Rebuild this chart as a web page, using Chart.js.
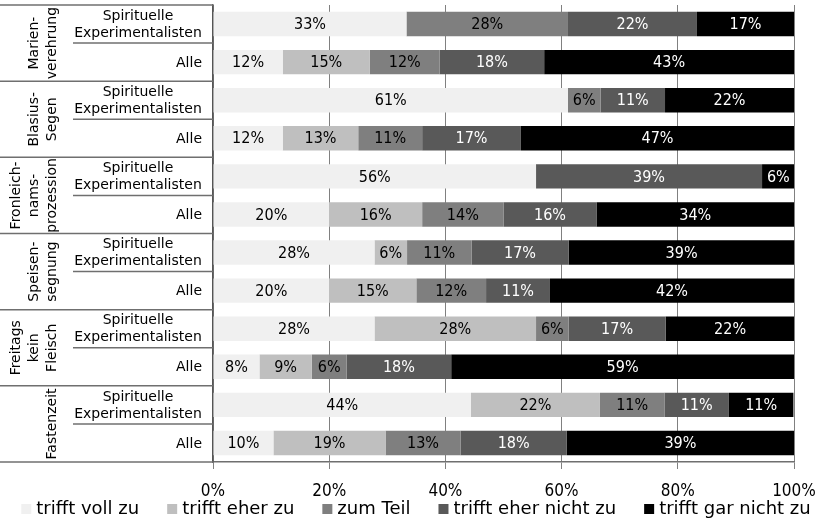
<!DOCTYPE html>
<html>
<head>
<meta charset="utf-8">
<script src="https://cdn.jsdelivr.net/npm/chart.js@4/dist/chart.umd.min.js"></script>
<style>
  html, body { margin: 0; padding: 0; background: #fff; }
  #wrap { width: 820px; height: 521px; }
</style>
</head>
<body>
<div id="wrap"><canvas id="c" width="820" height="521"></canvas></div>
<script>
// ---- data ----
const groupLabels = [
  ['Marien-', 'verehrung'],
  ['Blasius-', 'Segen'],
  ['Fronleich-', 'nams-', 'prozession'],
  ['Speisen-', 'segnung'],
  ['Freitags', 'kein', 'Fleisch'],
  ['Fastenzeit']
];
const subLabels = [['Spirituelle', 'Experimentalisten'], ['Alle']];
const rowLabels = [
  'Marien SE', 'Marien Alle',
  'Blasius SE', 'Blasius Alle',
  'Fronleichnam SE', 'Fronleichnam Alle',
  'Speisen SE', 'Speisen Alle',
  'Freitags SE', 'Freitags Alle',
  'Fasten SE', 'Fasten Alle'
];
const seriesNames = ['trifft voll zu', 'trifft eher zu', 'zum Teil', 'trifft eher nicht zu', 'trifft gar nicht zu'];
const trifftVollZu      = [33.3, 12, 61.1, 12, 55.6, 20, 27.8, 20, 27.8,  8, 44.4, 10.4];
const trifftEherZu      = [ 0,   15,  0,   13,  0,   16,  5.6, 15, 27.8,  9, 22.2, 19.3];
const zumTeil           = [27.8, 12,  5.6, 11,  0,   14, 11.1, 12,  5.6,  6, 11.1, 12.9];
const trifftEherNichtZu = [22.2, 18, 11.1, 17, 38.9, 16, 16.7, 11, 16.7, 18, 11.1, 18.3];
const trifftGarNichtZu  = [16.7, 43, 22.2, 47,  5.6, 34, 38.9, 42, 22.2, 59, 11.1, 39.1];
const xTicks = [0, 20, 40, 60, 80, 100];

// ---- styles ----
const colors = ['#f0f0f0', '#bfbfbf', '#7f7f7f', '#595959', '#000000'];
const labelColors = ['#000', '#000', '#000', '#fff', '#fff'];
const FONT = "'DejaVu Sans', sans-serif";
const FONT_NUM = "'DejaVu Sans Condensed', 'DejaVu Sans', sans-serif";
const lineColor = '#6f6f6f';

Chart.defaults.color = '#000';
Chart.defaults.font.family = FONT;

const seriesData = [trifftVollZu, trifftEherZu, zumTeil, trifftEherNichtZu, trifftGarNichtZu];

const leftLabels = {
  id: 'leftLabels',
  afterDraw(chart) {
    const ctx = chart.ctx;
    const y = chart.scales.y;
    const area = chart.chartArea;
    const n = rowLabels.length;
    const bound = i => {
      if (i <= 0) return area.top;
      if (i >= n) return area.bottom;
      return (y.getPixelForValue(i - 1) + y.getPixelForValue(i)) / 2;
    };
    ctx.save();
    ctx.strokeStyle = lineColor;
    ctx.lineWidth = 1.5;
    for (let g = 0; g <= groupLabels.length; g++) {
      const yy = bound(g * 2);
      ctx.beginPath(); ctx.moveTo(0, yy); ctx.lineTo(area.left, yy); ctx.stroke();
    }
    for (let g = 0; g < groupLabels.length; g++) {
      const yy = bound(g * 2 + 1);
      ctx.beginPath(); ctx.moveTo(73, yy); ctx.lineTo(area.left, yy); ctx.stroke();
    }
    ctx.fillStyle = '#000';
    ctx.font = '14px ' + FONT;
    ctx.textBaseline = 'middle';
    for (let i = 0; i < n; i++) {
      const cy = y.getPixelForValue(i);
      const lab = subLabels[i % 2];
      if (lab.length === 2) {
        ctx.textAlign = 'center';
        ctx.fillText(lab[0], 138, cy - 8);
        ctx.fillText(lab[1], 138, cy + 9);
      } else {
        ctx.textAlign = 'right';
        ctx.fillText(lab[0], 202, cy + 1);
      }
    }
    ctx.textAlign = 'center';
    ctx.textBaseline = 'alphabetic';
    for (let g = 0; g < groupLabels.length; g++) {
      const cy = (bound(g * 2) + bound(g * 2 + 2)) / 2;
      const lines = groupLabels[g];
      ctx.save();
      ctx.translate(0, cy);
      ctx.rotate(-Math.PI / 2);
      lines.forEach((t, j) => {
        const bx = 56 - (lines.length - 1 - j) * 18;
        ctx.fillText(t, 0, bx);
      });
      ctx.restore();
    }

    // legend (single row, centred, drawn from the chart's datasets)
    ctx.font = '18px ' + FONT;
    ctx.textAlign = 'left';
    ctx.textBaseline = 'middle';
    const box = 10, gapBox = 5, gapItem = 28, ly = 509;
    const items = chart.data.datasets.map(ds => ({
      text: ds.label, color: ds.backgroundColor, w: ctx.measureText(ds.label).width
    }));
    const total = items.reduce((s, it) => s + box + gapBox + it.w, 0) + gapItem * (items.length - 1);
    let lx = (chart.width - total) / 2 + 6;
    items.forEach(it => {
      ctx.fillStyle = it.color;
      ctx.fillRect(lx, ly - box / 2, box, box);
      ctx.fillStyle = '#000';
      ctx.fillText(it.text, lx + box + gapBox, ly);
      lx += box + gapBox + it.w + gapItem;
    });
    ctx.restore();
  },
  afterDatasetsDraw(chart) {
    const ctx = chart.ctx;
    ctx.save();
    ctx.font = '16px ' + FONT_NUM;
    ctx.textAlign = 'center';
    ctx.textBaseline = 'middle';
    chart.data.datasets.forEach((ds, d) => {
      const meta = chart.getDatasetMeta(d);
      meta.data.forEach((el, i) => {
        const v = ds.data[i];
        if (!v) return;
        ctx.fillStyle = labelColors[d];
        ctx.fillText(Math.round(v) + '%', (el.x + el.base) / 2, el.y + 1);
      });
    });
    ctx.restore();
  }
};

new Chart(document.getElementById('c'), {
  type: 'bar',
  data: {
    labels: rowLabels,
    datasets: seriesNames.map((name, k) => ({
      label: name,
      data: seriesData[k],
      backgroundColor: colors[k],
      borderWidth: 0,
      categoryPercentage: 1,
      barPercentage: 0.64
    }))
  },
  options: {
    indexAxis: 'y',
    responsive: false,
    animation: false,
    layout: { padding: { top: 5, right: 26, left: 0, bottom: 7.6 } },
    scales: {
      x: {
        stacked: true,
        min: 0, max: 100,
        afterBuildTicks(scale) { scale.ticks = xTicks.map(v => ({ value: v })); },
        afterFit(scale) { scale.paddingRight = 0; scale.paddingLeft = 0; },
        ticks: {
          callback: v => v + '%',
          font: { size: 17, family: FONT_NUM },
          color: '#000',
          padding: 12,
          maxRotation: 0
        },
        grid: { color: '#808080', lineWidth: 1, tickLength: 7, drawOnChartArea: true },
        border: { display: true, color: lineColor, width: 1.5 }
      },
      y: {
        stacked: true,
        ticks: { display: false },
        grid: { display: false },
        border: { display: true, color: '#555', width: 1.5 },
        afterFit(scale) { scale.width = 213; }
      }
    },
    plugins: {
      legend: { display: false },
      tooltip: { enabled: false }
    }
  },
  plugins: [leftLabels]
});
</script>
</body>
</html>
